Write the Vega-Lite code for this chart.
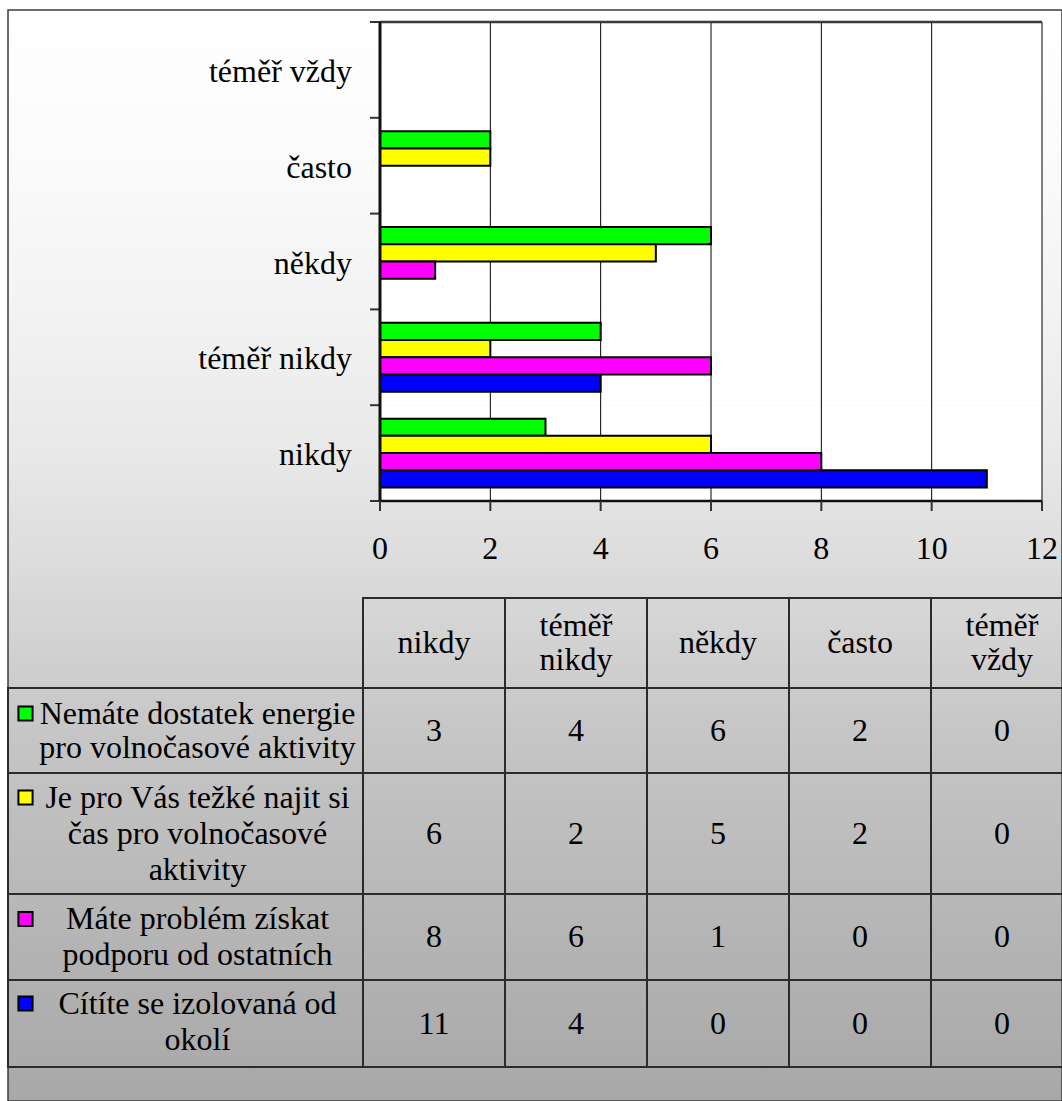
{
  "$schema": "https://vega.github.io/schema/vega-lite/v6.json",
  "width": 1054,
  "height": 1091,
  "autosize": "none",
  "padding": {"left": 8, "top": 10, "right": 0, "bottom": 0},
  "background": "#ffffff",
  "view": {
    "fill": {"gradient": "linear", "x1": 0, "y1": 0, "x2": 0, "y2": 1, "stops": [
      {"offset": 0, "color": "#ffffff"},
      {"offset": 0.13, "color": "#fbfbfb"},
      {"offset": 0.27, "color": "#f3f3f3"},
      {"offset": 0.4, "color": "#e9e9e9"},
      {"offset": 0.5, "color": "#dddddd"},
      {"offset": 0.58, "color": "#d2d2d2"},
      {"offset": 0.66, "color": "#c6c6c6"},
      {"offset": 0.77, "color": "#bcbcbc"},
      {"offset": 0.9, "color": "#b0b0b0"},
      {"offset": 1, "color": "#a8a8a8"}
    ]},
    "stroke": "#3c3c3c",
    "strokeWidth": 1.5
  },
  "config": {"font": "Liberation Serif", "text": {"font": "Liberation Serif", "fontSize": 32, "color": "black"}},
  "datasets": {
    "kategorie": [
      {"kat": "nikdy", "hlavicka": "nikdy"},
      {"kat": "téměř nikdy", "hlavicka": "téměř\nnikdy"},
      {"kat": "někdy", "hlavicka": "někdy"},
      {"kat": "často", "hlavicka": "často"},
      {"kat": "téměř vždy", "hlavicka": "téměř\nvždy"}
    ],
    "otazky": [
      {"otazka": "Nemáte dostatek energie pro volnočasové aktivity", "popisek": "Nemáte dostatek energie\npro volnočasové aktivity"},
      {"otazka": "Je pro Vás težké najit si čas pro volnočasové aktivity", "popisek": "Je pro Vás težké najit si\nčas pro volnočasové\naktivity"},
      {"otazka": "Máte problém získat podporu od ostatních", "popisek": "Máte problém získat\npodporu od ostatních"},
      {"otazka": "Cítíte se izolovaná od okolí", "popisek": "Cítíte se izolovaná od\nokolí"}
    ],
    "odpovedi": [
      {"otazka": "Nemáte dostatek energie pro volnočasové aktivity", "kat": "nikdy", "pocet": 3},
      {"otazka": "Nemáte dostatek energie pro volnočasové aktivity", "kat": "téměř nikdy", "pocet": 4},
      {"otazka": "Nemáte dostatek energie pro volnočasové aktivity", "kat": "někdy", "pocet": 6},
      {"otazka": "Nemáte dostatek energie pro volnočasové aktivity", "kat": "často", "pocet": 2},
      {"otazka": "Nemáte dostatek energie pro volnočasové aktivity", "kat": "téměř vždy", "pocet": 0},
      {"otazka": "Je pro Vás težké najit si čas pro volnočasové aktivity", "kat": "nikdy", "pocet": 6},
      {"otazka": "Je pro Vás težké najit si čas pro volnočasové aktivity", "kat": "téměř nikdy", "pocet": 2},
      {"otazka": "Je pro Vás težké najit si čas pro volnočasové aktivity", "kat": "někdy", "pocet": 5},
      {"otazka": "Je pro Vás težké najit si čas pro volnočasové aktivity", "kat": "často", "pocet": 2},
      {"otazka": "Je pro Vás težké najit si čas pro volnočasové aktivity", "kat": "téměř vždy", "pocet": 0},
      {"otazka": "Máte problém získat podporu od ostatních", "kat": "nikdy", "pocet": 8},
      {"otazka": "Máte problém získat podporu od ostatních", "kat": "téměř nikdy", "pocet": 6},
      {"otazka": "Máte problém získat podporu od ostatních", "kat": "někdy", "pocet": 1},
      {"otazka": "Máte problém získat podporu od ostatních", "kat": "často", "pocet": 0},
      {"otazka": "Máte problém získat podporu od ostatních", "kat": "téměř vždy", "pocet": 0},
      {"otazka": "Cítíte se izolovaná od okolí", "kat": "nikdy", "pocet": 11},
      {"otazka": "Cítíte se izolovaná od okolí", "kat": "téměř nikdy", "pocet": 4},
      {"otazka": "Cítíte se izolovaná od okolí", "kat": "někdy", "pocet": 0},
      {"otazka": "Cítíte se izolovaná od okolí", "kat": "často", "pocet": 0},
      {"otazka": "Cítíte se izolovaná od okolí", "kat": "téměř vždy", "pocet": 0}
    ],
    "osa": [{"hodnota": 0}, {"hodnota": 2}, {"hodnota": 4}, {"hodnota": 6}, {"hodnota": 8}, {"hodnota": 10}, {"hodnota": 12}]
  },
  "resolve": {"scale": {"x": "independent", "y": "independent"}, "axis": {"x": "independent", "y": "independent"}},
  "layer": [
    {
      "layer": [
        {
          "data": {"name": "kategorie"},
          "mark": {"type": "bar", "color": "#ffffff"},
          "encoding": {
            "y": {"field": "kat", "type": "nominal", "scale": {"domain": ["téměř vždy", "často", "někdy", "téměř nikdy", "nikdy"], "range": [12, 491], "paddingInner": 0, "paddingOuter": 0}, "axis": null},
            "x": {"datum": 0, "type": "quantitative", "scale": {"domain": [0, 12], "range": [372, 1034], "nice": false}, "axis": null},
            "x2": {"datum": 12}
          }
        },
        {
          "data": {"name": "osa"},
          "transform": [{"filter": "datum.hodnota > 0"}],
          "mark": {"type": "rule", "stroke": "#000000", "strokeWidth": 1},
          "encoding": {
            "x": {"field": "hodnota", "type": "quantitative", "axis": null},
            "y": {"datum": "téměř vždy", "type": "nominal", "bandPosition": 0, "axis": null},
            "y2": {"datum": "nikdy", "bandPosition": 1}
          }
        },
        {
          "data": {"name": "kategorie"},
          "transform": [{"filter": {"field": "kat", "equal": "téměř vždy"}}],
          "mark": {"type": "rule", "stroke": "#3a3a3a", "strokeWidth": 2.5},
          "encoding": {
            "y": {"field": "kat", "type": "nominal", "bandPosition": 0, "axis": null},
            "x": {"datum": 0, "type": "quantitative", "axis": null},
            "x2": {"datum": 12}
          }
        },
        {
          "data": {"name": "odpovedi"},
          "transform": [{"filter": "datum.pocet > 0"}],
          "mark": {"type": "bar", "stroke": "#000000", "strokeWidth": 2},
          "encoding": {
            "y": {"field": "kat", "type": "nominal", "axis": null},
            "x": {"field": "pocet", "type": "quantitative", "axis": null},
            "yOffset": {"field": "otazka", "type": "nominal", "scale": {"domain": ["Nemáte dostatek energie pro volnočasové aktivity", "Je pro Vás težké najit si čas pro volnočasové aktivity", "Máte problém získat podporu od ostatních", "Cítíte se izolovaná od okolí"], "paddingInner": 0, "paddingOuter": 0.78}},
            "color": {"field": "otazka", "type": "nominal", "scale": {"domain": ["Nemáte dostatek energie pro volnočasové aktivity", "Je pro Vás težké najit si čas pro volnočasové aktivity", "Máte problém získat podporu od ostatních", "Cítíte se izolovaná od okolí"], "range": ["#00ff00", "#ffff00", "#ff00ff", "#0000ff"]}, "legend": null}
          }
        },
        {
          "data": {"name": "kategorie"},
          "mark": {"type": "rule", "stroke": "#333333", "strokeWidth": 2, "xOffset": -10},
          "encoding": {
            "y": {"field": "kat", "type": "nominal", "bandPosition": 0, "axis": null},
            "x": {"datum": 0, "type": "quantitative", "axis": null},
            "x2": {"datum": 0}
          }
        },
        {
          "data": {"name": "kategorie"},
          "transform": [{"filter": {"field": "kat", "equal": "nikdy"}}],
          "mark": {"type": "rule", "stroke": "#333333", "strokeWidth": 2, "xOffset": -10},
          "encoding": {
            "y": {"field": "kat", "type": "nominal", "bandPosition": 1, "axis": null},
            "x": {"datum": 0, "type": "quantitative", "axis": null},
            "x2": {"datum": 0}
          }
        },
        {
          "data": {"name": "kategorie"},
          "transform": [{"filter": {"field": "kat", "equal": "nikdy"}}],
          "mark": {"type": "rule", "stroke": "#111111", "strokeWidth": 2.5},
          "encoding": {
            "y": {"field": "kat", "type": "nominal", "bandPosition": 1, "axis": null},
            "x": {"datum": 0, "type": "quantitative", "axis": null},
            "x2": {"datum": 12}
          }
        },
        {
          "data": {"name": "kategorie"},
          "transform": [{"filter": {"field": "kat", "equal": "nikdy"}}],
          "mark": {"type": "rule", "stroke": "#111111", "strokeWidth": 3},
          "encoding": {
            "x": {"datum": 0, "type": "quantitative", "axis": null},
            "y": {"datum": "téměř vždy", "type": "nominal", "bandPosition": 0, "axis": null},
            "y2": {"datum": "nikdy", "bandPosition": 1}
          }
        },
        {
          "data": {"name": "osa"},
          "mark": {"type": "rule", "stroke": "#333333", "strokeWidth": 2, "y2Offset": 10},
          "encoding": {
            "x": {"field": "hodnota", "type": "quantitative", "axis": null},
            "y": {"datum": "nikdy", "type": "nominal", "bandPosition": 1, "axis": null},
            "y2": {"datum": "nikdy", "bandPosition": 1}
          }
        },
        {
          "data": {"name": "kategorie"},
          "mark": {"type": "text", "font": "Liberation Serif", "fontSize": 32, "align": "right", "baseline": "middle", "dx": -28, "dy": 2, "color": "#000000"},
          "encoding": {
            "y": {"field": "kat", "type": "nominal", "axis": null},
            "x": {"datum": 0, "type": "quantitative", "axis": null},
            "text": {"field": "kat"}
          }
        },
        {
          "data": {"name": "osa"},
          "mark": {"type": "text", "font": "Liberation Serif", "fontSize": 32, "align": "center", "baseline": "middle", "dy": 48, "color": "#000000"},
          "encoding": {
            "x": {"field": "hodnota", "type": "quantitative", "axis": null},
            "y": {"datum": "nikdy", "type": "nominal", "bandPosition": 1, "axis": null},
            "text": {"field": "hodnota", "type": "quantitative"}
          }
        }
      ]
    },
    {
      "data": {"name": "kategorie"},
      "encoding": {
        "x": {"field": "kat", "type": "nominal", "scale": {"domain": ["nikdy", "téměř nikdy", "někdy", "často", "téměř vždy"], "range": [355, 1065], "paddingInner": 0, "paddingOuter": 0}, "axis": null},
        "y": {"datum": "záhlaví", "type": "nominal", "scale": {"domain": ["záhlaví"], "range": [588, 678], "paddingInner": 0, "paddingOuter": 0}, "axis": null}
      },
      "layer": [
        {"mark": {"type": "rect", "fillOpacity": 0, "stroke": "#2b2b2b", "strokeWidth": 2}},
        {"transform": [{"filter": "indexof(datum.hlavicka, '\\n') < 0"}], "mark": {"type": "text", "font": "Liberation Serif", "fontSize": 32, "align": "center", "baseline": "middle", "color": "#000000"}, "encoding": {"text": {"field": "hlavicka"}}},
        {"transform": [{"filter": "indexof(datum.hlavicka, '\\n') >= 0"}], "mark": {"type": "text", "font": "Liberation Serif", "fontSize": 32, "lineBreak": "\n", "lineHeight": 34, "align": "center", "baseline": "middle", "dy": -17, "color": "#000000"}, "encoding": {"text": {"field": "hlavicka"}}}
      ]
    },
    {
      "resolve": {"scale": {"x": "independent"}},
      "layer": [
        {
          "data": {"name": "otazky"},
          "transform": [{"filter": {"field": "otazka", "equal": "Nemáte dostatek energie pro volnočasové aktivity"}}],
          "encoding": {
            "x": {"field": "otazka", "type": "nominal", "scale": {"domain": ["Nemáte dostatek energie pro volnočasové aktivity"], "range": [0, 355], "paddingInner": 0, "paddingOuter": 0}, "axis": null},
            "y": {"field": "otazka", "type": "nominal", "scale": {"domain": ["Nemáte dostatek energie pro volnočasové aktivity"], "range": [678, 763], "paddingInner": 0, "paddingOuter": 0}, "axis": null}
          },
          "layer": [
            {"mark": {"type": "rect", "fillOpacity": 0, "stroke": "#2b2b2b", "strokeWidth": 2}},
            {"mark": {"type": "text", "font": "Liberation Serif", "fontSize": 32, "lineBreak": "\n", "lineHeight": 34, "align": "center", "baseline": "middle", "dx": 12, "dy": -17, "color": "#000000"}, "encoding": {"text": {"field": "popisek"}}},
            {"mark": {"type": "point", "shape": "square", "filled": true, "opacity": 1, "size": 200, "stroke": "#000000", "strokeWidth": 2, "xOffset": -160, "yOffset": -17}, "encoding": {"color": {"field": "otazka", "type": "nominal", "legend": null}}}
          ]
        },
        {
          "data": {"name": "odpovedi"},
          "transform": [{"filter": {"field": "otazka", "equal": "Nemáte dostatek energie pro volnočasové aktivity"}}],
          "encoding": {
            "x": {"field": "kat", "type": "nominal", "scale": {"domain": ["nikdy", "téměř nikdy", "někdy", "často", "téměř vždy"], "range": [355, 1065], "paddingInner": 0, "paddingOuter": 0}, "axis": null},
            "y": {"field": "otazka", "type": "nominal", "scale": {"domain": ["Nemáte dostatek energie pro volnočasové aktivity"], "range": [678, 763], "paddingInner": 0, "paddingOuter": 0}, "axis": null}
          },
          "layer": [
            {"mark": {"type": "rect", "fillOpacity": 0, "stroke": "#2b2b2b", "strokeWidth": 2}},
            {"mark": {"type": "text", "font": "Liberation Serif", "fontSize": 32, "align": "center", "baseline": "middle", "color": "#000000"}, "encoding": {"text": {"field": "pocet", "type": "quantitative"}}}
          ]
        }
      ]
    },
    {
      "resolve": {"scale": {"x": "independent"}},
      "layer": [
        {
          "data": {"name": "otazky"},
          "transform": [{"filter": {"field": "otazka", "equal": "Je pro Vás težké najit si čas pro volnočasové aktivity"}}],
          "encoding": {
            "x": {"field": "otazka", "type": "nominal", "scale": {"domain": ["Je pro Vás težké najit si čas pro volnočasové aktivity"], "range": [0, 355], "paddingInner": 0, "paddingOuter": 0}, "axis": null},
            "y": {"field": "otazka", "type": "nominal", "scale": {"domain": ["Je pro Vás težké najit si čas pro volnočasové aktivity"], "range": [763, 884], "paddingInner": 0, "paddingOuter": 0}, "axis": null}
          },
          "layer": [
            {"mark": {"type": "rect", "fillOpacity": 0, "stroke": "#2b2b2b", "strokeWidth": 2}},
            {"mark": {"type": "text", "font": "Liberation Serif", "fontSize": 32, "lineBreak": "\n", "lineHeight": 36, "align": "center", "baseline": "middle", "dx": 12, "dy": -36, "color": "#000000"}, "encoding": {"text": {"field": "popisek"}}},
            {"mark": {"type": "point", "shape": "square", "filled": true, "opacity": 1, "size": 200, "stroke": "#000000", "strokeWidth": 2, "xOffset": -160, "yOffset": -36}, "encoding": {"color": {"field": "otazka", "type": "nominal", "legend": null}}}
          ]
        },
        {
          "data": {"name": "odpovedi"},
          "transform": [{"filter": {"field": "otazka", "equal": "Je pro Vás težké najit si čas pro volnočasové aktivity"}}],
          "encoding": {
            "x": {"field": "kat", "type": "nominal", "scale": {"domain": ["nikdy", "téměř nikdy", "někdy", "často", "téměř vždy"], "range": [355, 1065], "paddingInner": 0, "paddingOuter": 0}, "axis": null},
            "y": {"field": "otazka", "type": "nominal", "scale": {"domain": ["Je pro Vás težké najit si čas pro volnočasové aktivity"], "range": [763, 884], "paddingInner": 0, "paddingOuter": 0}, "axis": null}
          },
          "layer": [
            {"mark": {"type": "rect", "fillOpacity": 0, "stroke": "#2b2b2b", "strokeWidth": 2}},
            {"mark": {"type": "text", "font": "Liberation Serif", "fontSize": 32, "align": "center", "baseline": "middle", "color": "#000000"}, "encoding": {"text": {"field": "pocet", "type": "quantitative"}}}
          ]
        }
      ]
    },
    {
      "resolve": {"scale": {"x": "independent"}},
      "layer": [
        {
          "data": {"name": "otazky"},
          "transform": [{"filter": {"field": "otazka", "equal": "Máte problém získat podporu od ostatních"}}],
          "encoding": {
            "x": {"field": "otazka", "type": "nominal", "scale": {"domain": ["Máte problém získat podporu od ostatních"], "range": [0, 355], "paddingInner": 0, "paddingOuter": 0}, "axis": null},
            "y": {"field": "otazka", "type": "nominal", "scale": {"domain": ["Máte problém získat podporu od ostatních"], "range": [884, 970], "paddingInner": 0, "paddingOuter": 0}, "axis": null}
          },
          "layer": [
            {"mark": {"type": "rect", "fillOpacity": 0, "stroke": "#2b2b2b", "strokeWidth": 2}},
            {"mark": {"type": "text", "font": "Liberation Serif", "fontSize": 32, "lineBreak": "\n", "lineHeight": 36, "align": "center", "baseline": "middle", "dx": 12, "dy": -18, "color": "#000000"}, "encoding": {"text": {"field": "popisek"}}},
            {"mark": {"type": "point", "shape": "square", "filled": true, "opacity": 1, "size": 200, "stroke": "#000000", "strokeWidth": 2, "xOffset": -160, "yOffset": -18}, "encoding": {"color": {"field": "otazka", "type": "nominal", "legend": null}}}
          ]
        },
        {
          "data": {"name": "odpovedi"},
          "transform": [{"filter": {"field": "otazka", "equal": "Máte problém získat podporu od ostatních"}}],
          "encoding": {
            "x": {"field": "kat", "type": "nominal", "scale": {"domain": ["nikdy", "téměř nikdy", "někdy", "často", "téměř vždy"], "range": [355, 1065], "paddingInner": 0, "paddingOuter": 0}, "axis": null},
            "y": {"field": "otazka", "type": "nominal", "scale": {"domain": ["Máte problém získat podporu od ostatních"], "range": [884, 970], "paddingInner": 0, "paddingOuter": 0}, "axis": null}
          },
          "layer": [
            {"mark": {"type": "rect", "fillOpacity": 0, "stroke": "#2b2b2b", "strokeWidth": 2}},
            {"mark": {"type": "text", "font": "Liberation Serif", "fontSize": 32, "align": "center", "baseline": "middle", "color": "#000000"}, "encoding": {"text": {"field": "pocet", "type": "quantitative"}}}
          ]
        }
      ]
    },
    {
      "resolve": {"scale": {"x": "independent"}},
      "layer": [
        {
          "data": {"name": "otazky"},
          "transform": [{"filter": {"field": "otazka", "equal": "Cítíte se izolovaná od okolí"}}],
          "encoding": {
            "x": {"field": "otazka", "type": "nominal", "scale": {"domain": ["Cítíte se izolovaná od okolí"], "range": [0, 355], "paddingInner": 0, "paddingOuter": 0}, "axis": null},
            "y": {"field": "otazka", "type": "nominal", "scale": {"domain": ["Cítíte se izolovaná od okolí"], "range": [970, 1057], "paddingInner": 0, "paddingOuter": 0}, "axis": null}
          },
          "layer": [
            {"mark": {"type": "rect", "fillOpacity": 0, "stroke": "#2b2b2b", "strokeWidth": 2}},
            {"mark": {"type": "text", "font": "Liberation Serif", "fontSize": 32, "lineBreak": "\n", "lineHeight": 36, "align": "center", "baseline": "middle", "dx": 12, "dy": -20, "color": "#000000"}, "encoding": {"text": {"field": "popisek"}}},
            {"mark": {"type": "point", "shape": "square", "filled": true, "opacity": 1, "size": 200, "stroke": "#000000", "strokeWidth": 2, "xOffset": -160, "yOffset": -20}, "encoding": {"color": {"field": "otazka", "type": "nominal", "legend": null}}}
          ]
        },
        {
          "data": {"name": "odpovedi"},
          "transform": [{"filter": {"field": "otazka", "equal": "Cítíte se izolovaná od okolí"}}],
          "encoding": {
            "x": {"field": "kat", "type": "nominal", "scale": {"domain": ["nikdy", "téměř nikdy", "někdy", "často", "téměř vždy"], "range": [355, 1065], "paddingInner": 0, "paddingOuter": 0}, "axis": null},
            "y": {"field": "otazka", "type": "nominal", "scale": {"domain": ["Cítíte se izolovaná od okolí"], "range": [970, 1057], "paddingInner": 0, "paddingOuter": 0}, "axis": null}
          },
          "layer": [
            {"mark": {"type": "rect", "fillOpacity": 0, "stroke": "#2b2b2b", "strokeWidth": 2}},
            {"mark": {"type": "text", "font": "Liberation Serif", "fontSize": 32, "align": "center", "baseline": "middle", "color": "#000000"}, "encoding": {"text": {"field": "pocet", "type": "quantitative"}}}
          ]
        }
      ]
    }
  ]
}
